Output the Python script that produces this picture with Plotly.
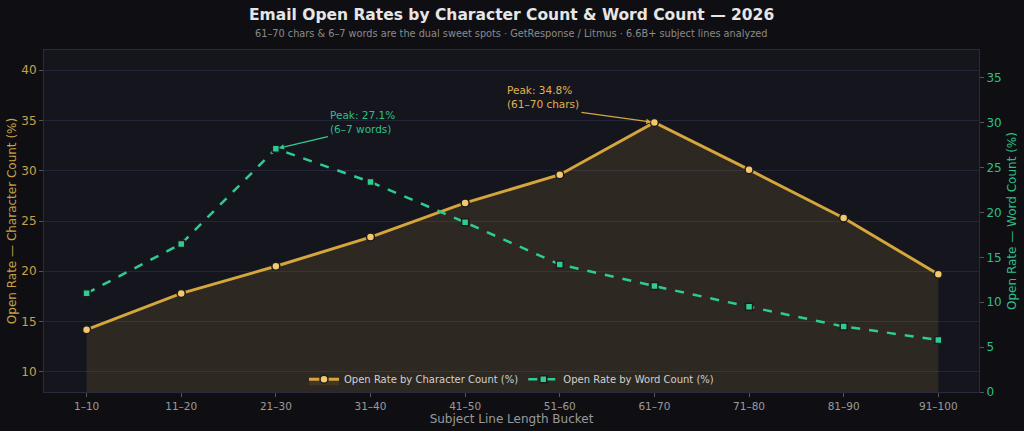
import plotly.graph_objects as go

buckets = ["1–10", "11–20", "21–30", "31–40", "41–50", "51–60", "61–70", "71–80", "81–90", "91–100"]
char_rates = [14.2, 17.8, 20.5, 23.4, 26.8, 29.6, 34.8, 30.1, 25.3, 19.7]
word_rates = [11.0, 16.5, 27.1, 23.4, 18.9, 14.2, 11.8, 9.5, 7.3, 5.8]

ORANGE = "#d4a63c"
ORANGE_TXT = "#c9a046"
GREEN = "#2ecc8f"
GREEN_TXT = "#2ebf85"

PLOT_H = 431 - 50 - 39

fig = go.Figure()
fig.add_trace(go.Scatter(
    x=buckets, y=char_rates, name="Open Rate by Character Count (%)",
    mode="lines+markers",
    line=dict(color=ORANGE, width=3),
    marker=dict(symbol="circle", size=8, color="#f3c96b", line=dict(color="#1a1a1f", width=1.5)),
    fill="tozeroy", fillcolor="rgba(212,166,60,0.13)",
    yaxis="y",
))
fig.add_trace(go.Scatter(
    x=buckets, y=word_rates, name="Open Rate by Word Count (%)",
    mode="lines+markers",
    line=dict(color=GREEN, width=2.5, dash="dash"),
    marker=dict(symbol="square", size=7, color=GREEN, line=dict(color="#1a1a1f", width=1.5)),
    yaxis="y2",
))

fig.add_annotation(
    x="61–70", y=34.8, xref="x", yref="y",
    text="Peak: 34.8%<br>(61–70 chars)", showarrow=True,
    ax=-73, ay=-10, arrowhead=2, arrowsize=0.8, arrowwidth=1.3, arrowcolor=ORANGE,
    font=dict(color="#e0b24e", size=10.5, family="DejaVu Sans"), align="left",
    xanchor="right", yanchor="bottom", standoff=3,
)
fig.add_annotation(
    x="21–30", y=27.1, xref="x", yref="y2",
    text="Peak: 27.1%<br>(6–7 words)", showarrow=True,
    ax=52, ay=-12, arrowhead=2, arrowsize=0.8, arrowwidth=1.3, arrowcolor=GREEN,
    font=dict(color=GREEN_TXT, size=10.5, family="DejaVu Sans"), align="left",
    xanchor="left", yanchor="bottom", standoff=3,
)

# title & subtitle
fig.add_annotation(
    text="<b>Email Open Rates by Character Count & Word Count — 2026</b>",
    xref="paper", yref="paper", x=0.5, y=(431 - 39 - 15) / PLOT_H,
    xanchor="center", yanchor="middle", showarrow=False,
    font=dict(size=15.5, color="#e6e6e6", family="DejaVu Sans"),
)
fig.add_annotation(
    text="61–70 chars & 6–7 words are the dual sweet spots · GetResponse / Litmus · 6.6B+ subject lines analyzed",
    xref="paper", yref="paper", x=0.5, y=(431 - 39 - 33.5) / PLOT_H,
    xanchor="center", yanchor="middle", showarrow=False,
    font=dict(size=9.75, color="#8a8a8a", family="DejaVu Sans"),
)

fig.update_layout(
    width=1024, height=431,
    margin=dict(l=44, r=45, t=50, b=39, autoexpand=False),
    paper_bgcolor="#0f0f13",
    plot_bgcolor="#15161d",
    font=dict(family="DejaVu Sans", color="#bbbbbb"),
    xaxis=dict(
        type="category", range=[-0.45, 9.43], automargin=False,
        showgrid=False, ticks="outside", ticklen=4, tickcolor="#555",
        tickfont=dict(size=10.5, color="#9a9a9a"),
        title=dict(text="Subject Line Length Bucket", font=dict(size=12, color="#9a9a9a"), standoff=4),
        showline=True, linecolor="#2a2a3c", mirror=True, zeroline=False,
    ),
    yaxis=dict(
        range=[8, 42], tickvals=[10, 15, 20, 25, 30, 35, 40], automargin=False,
        gridcolor="#24243a", gridwidth=1,
        ticks="outside", ticklen=4, tickcolor="#555",
        tickfont=dict(size=12, color=ORANGE_TXT),
        title=dict(text="Open Rate — Character Count (%)", font=dict(size=12, color=ORANGE_TXT), standoff=2),
        showline=True, linecolor="#2a2a3c", zeroline=False,
    ),
    yaxis2=dict(
        range=[0, 38.1], tickvals=[0, 5, 10, 15, 20, 25, 30, 35], automargin=False,
        overlaying="y", side="right", showgrid=False,
        ticks="outside", ticklen=4, tickcolor="#555",
        tickfont=dict(size=12, color=GREEN_TXT),
        title=dict(text="Open Rate — Word Count (%)", font=dict(size=12, color=GREEN_TXT), standoff=6),
        showline=True, linecolor="#2a2a3c", zeroline=False,
    ),
    legend=dict(
        orientation="h", x=0.5, xanchor="center", y=-0.005, yanchor="bottom",
        bgcolor="rgba(0,0,0,0)", font=dict(size=10, color="#d0d0d0"),
    ),
    showlegend=True,
)

fig.write_html("out.html")
